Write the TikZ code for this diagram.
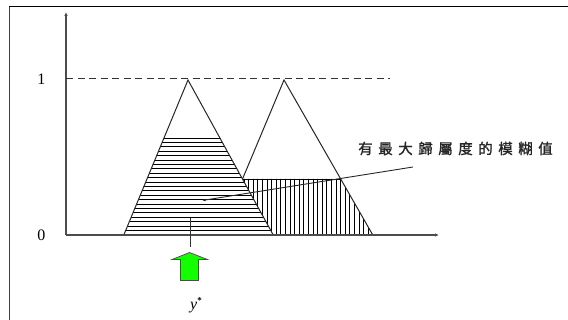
\documentclass[tikz,border=0pt]{standalone}
\usepackage{fontspec}
\setmainfont{Liberation Serif}
\newfontfamily\cjk[FakeBold=1.5]{Noto Sans CJK TC}
\usetikzlibrary{arrows.meta}
\newcommand\cjkgap{\hspace{5.5pt}}
\tikzset{
  axisline/.style={draw=black!70, line width=1.2pt},
  outline/.style={draw=black!85, line width=1pt},
  hatch/.style={draw=black, line width=0.75pt},
  lbl/.style={font=\fontsize{16}{16}\selectfont, inner sep=0pt},
}
\begin{document}
\begin{tikzpicture}[x=1pt,y=-1pt]
\useasboundingbox (0,0) rectangle (568,320);
% frame
\draw[black!75, line width=1.8pt] (9.5,320) -- (9.5,6.5);
\draw[black, line width=1.8pt] (9,6.5) -- (568,6.5);
% key points
\coordinate (O) at (66,235);
\coordinate (Ytop) at (66,12);
\coordinate (Xend) at (439,235);
\coordinate (D0) at (66,79);
\coordinate (D1) at (390,79);
\coordinate (A1) at (188,80);
\coordinate (L1) at (124,234.5);
\coordinate (R1) at (273,234.5);
\coordinate (A2) at (284,80);
\coordinate (R2) at (372.5,234.5);
\coordinate (P) at (242.5,179);
\coordinate (Q) at (340.7,179);
\coordinate (H1) at (164,138);
\coordinate (H2) at (220,138);
% hatching horizontal
\begin{scope}
  \clip (L1) -- (H1) -- (H2) -- (R1) -- cycle;
  \foreach \k in {0,...,22} {
    \draw[hatch] (120,138+\k*4.4) -- (280,138+\k*4.4);
  }
\end{scope}
\draw[hatch] (H1) -- (H2);
% hatching vertical
\begin{scope}
  \clip (P) -- (Q) -- (R2) -- (R1) -- cycle;
  \foreach \k in {0,...,28} {
    \draw[hatch] (244+\k*4.6,175) -- (244+\k*4.6,240);
  }
\end{scope}
\draw[hatch] (P) -- (Q);
% triangles
\draw[outline] (L1) -- (A1) -- (R1);
\draw[outline] (P) -- (A2) -- (R2);
% axes
\draw[axisline, -{Latex[length=4pt,width=3.5pt]}] (O) -- (Ytop);
\draw[axisline, -{Latex[length=4pt,width=3.5pt]}] (O) -- (Xend);
\draw[black!80, line width=1pt, dash pattern=on 7pt off 4.5pt] (D0) -- (D1);
\node[lbl] (one) at (41.5,79) {1};
\node[lbl] (zero) at (41.5,235) {0};
% label
\node[inner sep=0pt, text=black!85, font=\cjk\fontsize{14.5}{14.5}\selectfont] (lab) at (455.5,148.5)
  {有\cjkgap 最\cjkgap 大\cjkgap 歸\cjkgap 屬\cjkgap 度\cjkgap 的\cjkgap 模\cjkgap 糊\cjkgap 值};
\coordinate (lstart) at (413,167);
\coordinate (ltip) at (202,200.5);
\draw[black!85, line width=0.9pt, -{Latex[length=3.5pt,width=2.5pt]}] (lstart) -- (ltip);
% y* marker
\coordinate (m1) at (190,218);
\coordinate (m2) at (190,247);
\draw[black!80, line width=0.9pt] (m1) -- (m2);
\draw[fill=green!90!lime, draw=black!70, line width=0.7pt]
  (189.5,252.5) -- (207.5,259.5) -- (198.5,259.5) -- (198.5,280.5) -- (180.5,280.5) -- (180.5,259.5) -- (172,259.5) -- cycle;
\node[lbl] (ystar) at (196,305) {\textit{y}\raisebox{6pt}{\small\bfseries *}};
\end{tikzpicture}
\end{document}
